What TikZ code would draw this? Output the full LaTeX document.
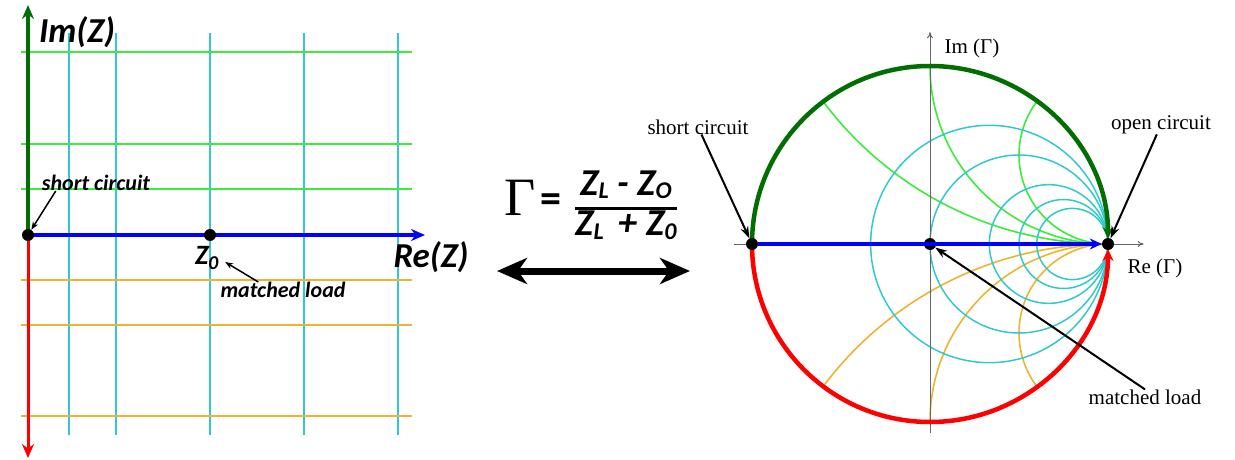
\documentclass[tikz,border=0pt]{standalone}
\usepackage{fontspec}
\setmainfont{Liberation Serif}
\newfontfamily\calibri{Carlito}
\usetikzlibrary{arrows.meta,positioning,calc}

\definecolor{dkgreen}{RGB}{0,110,0}
\definecolor{gridcyan}{RGB}{50,200,205}
\definecolor{gridgreen}{RGB}{60,235,60}
\definecolor{gridorange}{RGB}{235,180,50}

\newcommand\zsub[1]{\raisebox{-0.08em}{\fontsize{24}{26}\selectfont #1}}

\tikzset{
  dot/.style={circle, fill=black, inner sep=0pt, minimum size=12pt},
  cyanline/.style={gridcyan, line width=1.8pt},
  greenline/.style={gridgreen, line width=1.6pt},
  orangeline/.style={gridorange, line width=1.6pt},
  axisline/.style={black!60, line width=1pt, -{To[length=6pt,width=6pt]}},
  pointer/.style={line width=2pt, -{Stealth[length=12pt,width=8pt]}},
  thinpointer/.style={line width=1.5pt, -{Stealth[length=8pt,width=6pt]}},
  boldlabel/.style={font=\calibri\bfseries\itshape\fontsize{22}{24}\selectfont, inner sep=0pt},
  serlabel/.style={font=\fontsize{21}{24}\selectfont, inner sep=0pt},
}

\begin{document}
\begin{tikzpicture}[x=1pt, y=-1pt]
\useasboundingbox (0,0) rectangle (1235,460);

% impedance plane
\coordinate (lO) at (28,235);
\coordinate (lZ) at (210,235);
\coordinate (ltop) at (28,5);
\coordinate (lbot) at (28,458);
\coordinate (lright) at (425,235);

\foreach \gx in {69,116,210,304,398}
  \draw[cyanline] (\gx,33) -- (\gx,435);
\foreach \gy in {52,144,189}
  \draw[greenline] (21,\gy) -- (412,\gy);
\foreach \gy in {280,325,416}
  \draw[orangeline] (21,\gy) -- (412,\gy);

\draw[dkgreen, line width=4pt, -{Stealth[length=14pt,width=12pt]}] (lO) -- (ltop);
\draw[red, line width=3pt, -{Stealth[length=14pt,width=12pt]}] (lO) -- (lbot);
\draw[blue, line width=4pt, -{Stealth[length=14pt,width=12pt]}] (lO) -- (lright);

\node[dot] (lOdot) at (lO) {};
\node[dot] (lZdot) at (lZ) {};

\node[boldlabel, font=\calibri\bfseries\itshape\fontsize{35}{37}\selectfont] (lim) at (77,32) {Im(Z)};
\node[boldlabel, font=\calibri\bfseries\itshape\fontsize{35}{37}\selectfont] (lre) at (431,257) {Re(Z)};
\node[boldlabel] (lsc) at (96,183) {short circuit};
\node[boldlabel, font=\calibri\bfseries\itshape\fontsize{28}{30}\selectfont] (lz0) at (207,258) {Z\textsubscript{0}};
\node[boldlabel] (lml) at (283,290) {matched load};

\draw[thinpointer] ([xshift=14pt]lsc.south west) -- (lOdot);
\draw[thinpointer] ([xshift=38pt]lml.north west) -- ([xshift=6pt,yshift=-4pt]lz0.east);

% mapping
\node[inner sep=0pt, font=\fontsize{54}{58}\selectfont] (gam) at (520,198) {Γ};
\node[inner sep=0pt, font=\calibri\bfseries\fontsize{42}{44}\selectfont] (eq) at (551,203) {=};
\node[inner sep=0pt, font=\calibri\bfseries\itshape\fontsize{38}{42}\selectfont] (frac) at (626,208)
  {\setlength\arrayrulewidth{3pt}\renewcommand\arraystretch{0.9}%
   \begin{tabular}{@{}c@{}}Z\zsub{L} - Z\zsub{O}\\\hline Z\zsub{L} \,+ Z\zsub{0}\end{tabular}};
\coordinate (mapL) at (497,271);
\coordinate (mapR) at (690,271);
\draw[line width=7pt, {Stealth[length=30pt,width=26pt,inset=9pt]}-{Stealth[length=30pt,width=26pt,inset=9pt]}] (mapL) -- (mapR);

% smith chart
\begin{scope}[shift={(930,244)}, x=178pt, y=178pt]
  \begin{scope}
    \clip (0,0) circle (1);
    \foreach \xx in {0.5,1,2} {
      \draw[greenline] (1,{1/\xx}) circle ({1/\xx});
      \draw[orangeline] (1,{-1/\xx}) circle ({1/\xx});
    }
  \end{scope}
  \foreach \rr in {0.5,1,2,3,4}
    \draw[cyanline, line width=1.5pt] ({\rr/(1+\rr)},0) circle ({1/(1+\rr)});

  \coordinate (reL) at (-1.1,0);
  \coordinate (reR) at (1.2,0);
  \coordinate (imB) at (0,-1.06);
  \coordinate (imT) at (0,1.19);
  \draw[axisline] (reL) -- (reR);
  \draw[axisline] (imB) -- (imT);

  \draw[dkgreen, line width=4.5pt, -{Stealth[length=12pt,width=11pt]}, shorten >=5pt] (-1,0) arc (180:0:1);
  \draw[red, line width=4.5pt, -{Stealth[length=12pt,width=11pt]}, shorten >=5pt] (-1,0) arc (180:360:1);

  \node[dot] (sc) at (-1,0) {};
  \node[dot] (ml) at (0,0) {};
  \node[dot] (oc) at (1,0) {};
  \draw[blue, line width=4pt, -{Stealth[length=12pt,width=11pt]}] (sc) -- (oc);
\end{scope}

\node[serlabel] (ssc) at (698,127) {short circuit};
\node[serlabel] (soc) at (1161,125) {open circuit};
\node[serlabel] (sml) at (1145,397) {matched load};
\node[serlabel] (sre) at (1155,268) {Re (Γ)};
\node[serlabel] (sim) at (972,48) {Im (Γ)};

\draw[pointer] (ssc) -- (sc);
\draw[pointer] (soc) -- (oc);
\draw[pointer] (sml.north) -- (ml);

\end{tikzpicture}
\end{document}
